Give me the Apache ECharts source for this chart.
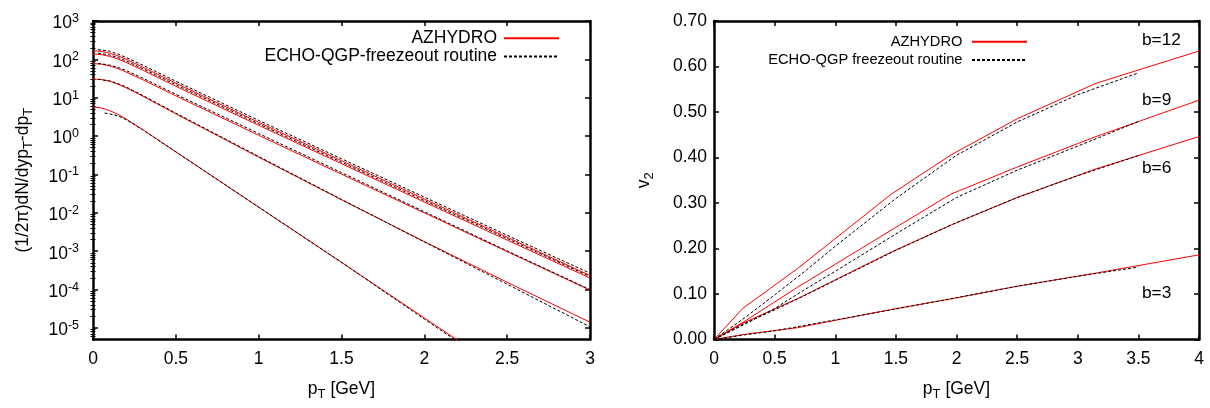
<!DOCTYPE html>
<html><head><meta charset="utf-8">
<script src="https://cdn.jsdelivr.net/npm/echarts@6/dist/echarts.min.js"></script>
<style>html,body{margin:0;padding:0;background:#fff}#c{width:1210px;height:408px}</style>
</head><body><div id="c"></div>
<script>
// ---------- Left panel: pT spectra (log scale) ----------
const ptAZ   = [0, 0.05, 0.1, 0.15, 0.2, 0.3, 0.5, 1.0, 1.5, 2.0, 2.5, 3.0];
const ptECHO = [0.03, 0.05, 0.1, 0.15, 0.2, 0.3, 0.5, 1.0, 1.5, 2.0, 2.5, 3.0];
const specA_AZ   = [168, 162, 146, 124, 101, 63.1, 24.0, 2.29, 0.229, 0.0229, 0.00232, 0.000233];
const specA_ECHO = [178, 176, 162, 138, 112, 70.8, 26.9, 2.57, 0.257, 0.0257, 0.00260, 0.000267];
const specB_AZ   = [138, 133, 120, 102, 83.2, 52.5, 19.9, 1.91, 0.191, 0.0191, 0.00195, 0.000200];
const specB_ECHO = [145, 143, 130, 112, 91.2, 57.5, 21.9, 2.09, 0.209, 0.0209, 0.00214, 0.000219];
const specC_AZ   = [77.6, 75.0, 67.6, 57.5, 46.8, 29.5, 11.2, 1.05, 0.102, 0.0100, 0.000977, 0.0000966];
const specC_ECHO = [77.6, 76.7, 70.8, 61.7, 51.3, 32.4, 12.3, 1.17, 0.112, 0.0107, 0.00102, 0.000100];
const specD_AZ   = [30.9, 29.9, 26.9, 22.6, 18.2, 11.0, 3.80, 0.282, 0.0219, 0.00178, 0.000155, 0.0000141];
const specD_ECHO = [30.2, 29.5, 27.5, 23.4, 19.1, 11.5, 3.98, 0.295, 0.0224, 0.00174, 0.000138, 0.0000107];
const ptE_AZ     = [0, 0.05, 0.1, 0.15, 0.2, 0.3, 0.5, 1.0, 1.5, 2.0, 2.5];
const specE_AZ   = [5.75, 5.43, 4.62, 3.72, 2.79, 1.48, 0.389, 0.0141, 0.000513, 0.0000182, 0.00000066];
const ptE_ECHO   = [0.07, 0.1, 0.15, 0.2, 0.3, 0.5, 1.0, 1.5, 2.0, 2.5];
const specE_ECHO = [3.98, 3.80, 3.39, 2.69, 1.46, 0.389, 0.0141, 0.000513, 0.0000170, 0.00000059];
const specXTicks = [0, 0.5, 1, 1.5, 2, 2.5, 3];
const specYTicks = [1e-5, 1e-4, 1e-3, 1e-2, 1e-1, 1, 10, 100, 1000];

// ---------- Right panel: v2(pT) ----------
const ptV2AZ   = [0, 0.24, 0.69, 1.46, 1.95, 2.5, 3.15, 4.0];
const ptV2ECHO = [0, 0.25, 0.5, 0.75, 1.0, 1.5, 2.0, 2.5, 3.0, 3.5];
const v2b12_AZ   = [0, 0.069, 0.156, 0.319, 0.405, 0.485, 0.563, 0.634];
const v2b12_ECHO = [0, 0.047, 0.098, 0.150, 0.205, 0.310, 0.405, 0.478, 0.538, 0.586];
const v2b9_AZ    = [0, 0.038, 0.115, 0.240, 0.319, 0.379, 0.446, 0.526];
const v2b9_ECHO  = [0, 0.033, 0.068, 0.110, 0.150, 0.232, 0.312, 0.372, 0.425, 0.479];
const v2b6_AZ    = [0, 0.036, 0.090, 0.192, 0.251, 0.312, 0.375, 0.446];
const v2b6_ECHO  = [0, 0.035, 0.065, 0.097, 0.130, 0.196, 0.257, 0.312, 0.360, 0.404];
const v2b3_AZ    = [0, 0.011, 0.026, 0.066, 0.089, 0.117, 0.146, 0.186];
const v2b3_ECHO  = [0, 0.010, 0.019, 0.031, 0.043, 0.067, 0.092, 0.117, 0.139, 0.159];
const v2XTicks = [0, 0.5, 1, 1.5, 2, 2.5, 3, 3.5, 4];
const v2YTicks = [0, 0.1, 0.2, 0.3, 0.4, 0.5, 0.6, 0.7];
const bLabels = ['b=12', 'b=9', 'b=6', 'b=3'];

const FONT = '"Liberation Sans", Arial, Helvetica, sans-serif';
const NAME_L_AZ = 'AZHYDRO', NAME_L_ECHO = 'ECHO-QGP-freezeout routine';
const NAME_R_AZ = 'AZHYDRO', NAME_R_ECHO = 'ECHO-QGP freezeout routine';

function pts(xs, ys) { return xs.map((x, i) => [x, ys[i]]); }
const RED = { color: '#ff0000', width: 1, type: 'solid' };
const BLK = { color: '#000000', width: 1, type: [3, 2] };
function ln(name, xi, yi, data, st, z) {
  return { type: 'line', name, xAxisIndex: xi, yAxisIndex: yi, data, symbol: 'none', showSymbol: false,
    lineStyle: st, itemStyle: { color: st.color }, silent: true, animation: false, clip: true, z };
}

const minorLog = [];
for (let k = -6; k <= 2; k++) for (let m = 2; m <= 9; m++) {
  const v = m * Math.pow(10, k);
  if (v > 5.5e-6 && v < 1000) minorLog.push(v);
}

const axisLineS = { show: true, onZero: false, lineStyle: { color: '#000', width: 2.5 } };
const tickS = (vals) => ({ show: true, inside: true, length: 5, lineStyle: { color: '#000', width: 1.5 }, customValues: vals });
const labelFont = { fontFamily: FONT, fontSize: 17.5, color: '#000' };
const subRich = {
  n: { fontFamily: FONT, fontSize: 17.5, color: '#000', lineHeight: 18, padding: [0, 0, 5, 0] },
  s: { fontFamily: FONT, fontSize: 13, color: '#000', lineHeight: 13, verticalAlign: 'bottom' }
};
const supRich = {
  b: { fontFamily: FONT, fontSize: 17.5, color: '#000', lineHeight: 18, padding: [5, 0, 0, 0] },
  p: { fontFamily: FONT, fontSize: 12.5, color: '#000', lineHeight: 12, verticalAlign: 'top' }
};
const minorTickAxis = (pos) => ({ gridIndex: 0, type: 'log', logBase: 10, position: pos, min: 5e-6, max: 1000,
  axisLine: { show: false }, splitLine: { show: false }, axisLabel: { show: false },
  axisTick: { show: true, inside: true, length: 2.5, lineStyle: { color: '#000', width: 1 }, customValues: minorLog } });

const option = {
  backgroundColor: '#fff',
  animation: false,
  grid: [
    { left: 93, top: 21, width: 497, height: 323, containLabel: false },
    { left: 714, top: 21, width: 485, height: 323, containLabel: false }
  ],
  xAxis: [
    { gridIndex: 0, type: 'value', position: 'bottom', min: 0, max: 3, interval: 0.5,
      axisLine: axisLineS, axisTick: tickS(specXTicks), splitLine: { show: false },
      axisLabel: { ...labelFont, margin: 11, customValues: specXTicks, formatter: v => String(v) },
      name: '{n|p}{s|T}{n| [GeV]}', nameLocation: 'middle', nameGap: 43,
      nameTextStyle: { rich: subRich } },
    { gridIndex: 0, type: 'value', position: 'top', min: 0, max: 3, interval: 0.5,
      axisLine: axisLineS, axisTick: tickS(specXTicks), splitLine: { show: false }, axisLabel: { show: false } },
    { gridIndex: 1, type: 'value', position: 'bottom', min: 0, max: 4, interval: 0.5,
      axisLine: axisLineS, axisTick: tickS(v2XTicks), splitLine: { show: false },
      axisLabel: { ...labelFont, margin: 11, customValues: v2XTicks, formatter: v => String(v) },
      name: '{n|p}{s|T}{n| [GeV]}', nameLocation: 'middle', nameGap: 43,
      nameTextStyle: { rich: subRich } },
    { gridIndex: 1, type: 'value', position: 'top', min: 0, max: 4, interval: 0.5,
      axisLine: axisLineS, axisTick: tickS(v2XTicks), splitLine: { show: false }, axisLabel: { show: false } }
  ],
  yAxis: [
    { gridIndex: 0, type: 'log', logBase: 10, position: 'left', min: 5e-6, max: 1000,
      axisLine: axisLineS, axisTick: tickS(specYTicks), splitLine: { show: false },
      axisLabel: { margin: 14, customValues: specYTicks, rich: supRich,
        formatter: v => '{b|10}{p|' + Math.round(Math.log10(v)) + '}' },
      name: '{n|(1/2\u03c0)dN/dyp}{s|T}{n|-dp}{s|T}', nameLocation: 'middle', nameGap: 58,
      nameTextStyle: { rich: subRich } },
    { gridIndex: 0, type: 'log', logBase: 10, position: 'right', min: 5e-6, max: 1000,
      axisLine: axisLineS, axisTick: tickS(specYTicks), splitLine: { show: false }, axisLabel: { show: false } },
    minorTickAxis('left'),
    minorTickAxis('right'),
    { gridIndex: 1, type: 'value', position: 'left', min: 0, max: 0.7, interval: 0.1,
      axisLine: axisLineS, axisTick: tickS(v2YTicks), splitLine: { show: false },
      axisLabel: { ...labelFont, margin: 7, customValues: v2YTicks, formatter: v => v.toFixed(2) },
      name: '{n|v}{s|2}', nameLocation: 'middle', nameGap: 58,
      nameTextStyle: { rich: subRich } },
    { gridIndex: 1, type: 'value', position: 'right', min: 0, max: 0.7, interval: 0.1,
      axisLine: axisLineS, axisTick: tickS(v2YTicks), splitLine: { show: false }, axisLabel: { show: false } }
  ],
  legend: [
    { data: [NAME_L_AZ, NAME_L_ECHO], orient: 'vertical', align: 'right', right: 650, top: 29, padding: 0,
      itemWidth: 55, itemHeight: 10, itemGap: 0, selectedMode: false, itemStyle: { opacity: 0 },
      textStyle: { fontFamily: FONT, fontSize: 17.5, color: '#000', lineHeight: 18.4, padding: [0, 2, 0, 0] } },
    { data: [NAME_R_AZ, NAME_R_ECHO], orient: 'vertical', align: 'right', right: 182, top: 32.5, padding: 0,
      itemWidth: 55, itemHeight: 10, itemGap: 0, selectedMode: false, itemStyle: { opacity: 0 },
      textStyle: { fontFamily: FONT, fontSize: 14.7, color: '#000', lineHeight: 18.3, padding: [0, 4.5, 0, 0] } }
  ],
  graphic: [
    { type: 'text', left: 1142, top: 31.5, style: { text: bLabels[0], font: '17.3px ' + FONT, fill: '#000' } },
    { type: 'text', left: 1142, top: 91.5, style: { text: bLabels[1], font: '17.3px ' + FONT, fill: '#000' } },
    { type: 'text', left: 1142, top: 159.5, style: { text: bLabels[2], font: '17.3px ' + FONT, fill: '#000' } },
    { type: 'text', left: 1142, top: 284.5, style: { text: bLabels[3], font: '17.3px ' + FONT, fill: '#000' } }
  ],
  series: [
    ln(NAME_L_AZ, 0, 0, pts(ptAZ, specA_AZ), RED, 2),
    ln(NAME_L_AZ, 0, 0, pts(ptAZ, specB_AZ), RED, 2),
    ln(NAME_L_AZ, 0, 0, pts(ptAZ, specC_AZ), RED, 2),
    ln(NAME_L_AZ, 0, 0, pts(ptAZ, specD_AZ), RED, 2),
    ln(NAME_L_AZ, 0, 0, pts(ptE_AZ, specE_AZ), RED, 2),
    ln(NAME_L_ECHO, 0, 0, pts(ptECHO, specA_ECHO), BLK, 3),
    ln(NAME_L_ECHO, 0, 0, pts(ptECHO, specB_ECHO), BLK, 3),
    ln(NAME_L_ECHO, 0, 0, pts(ptECHO, specC_ECHO), BLK, 3),
    ln(NAME_L_ECHO, 0, 0, pts(ptECHO, specD_ECHO), BLK, 3),
    ln(NAME_L_ECHO, 0, 0, pts(ptE_ECHO, specE_ECHO), BLK, 3),
    ln(NAME_R_AZ, 2, 4, pts(ptV2AZ, v2b12_AZ), RED, 2),
    ln(NAME_R_AZ, 2, 4, pts(ptV2AZ, v2b9_AZ), RED, 2),
    ln(NAME_R_AZ, 2, 4, pts(ptV2AZ, v2b6_AZ), RED, 2),
    ln(NAME_R_AZ, 2, 4, pts(ptV2AZ, v2b3_AZ), RED, 2),
    ln(NAME_R_ECHO, 2, 4, pts(ptV2ECHO, v2b12_ECHO), BLK, 3),
    ln(NAME_R_ECHO, 2, 4, pts(ptV2ECHO, v2b9_ECHO), BLK, 3),
    ln(NAME_R_ECHO, 2, 4, pts(ptV2ECHO, v2b6_ECHO), BLK, 3),
    ln(NAME_R_ECHO, 2, 4, pts(ptV2ECHO, v2b3_ECHO), BLK, 3)
  ]
};
const chart = echarts.init(document.getElementById('c'), null, { renderer: 'canvas' });
chart.setOption(option);
</script></body></html>
